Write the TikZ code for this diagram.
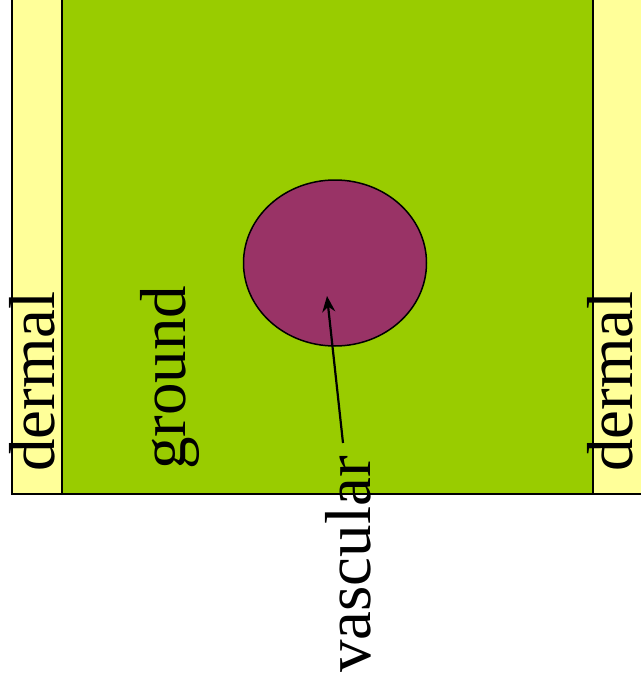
\documentclass[tikz,border=0pt]{standalone}
\usepackage{fontspec}
\setmainfont{Liberation Serif}
\usetikzlibrary{arrows.meta,shapes.geometric}
\definecolor{groundgreen}{HTML}{99CC00}
\definecolor{dermalyellow}{HTML}{FFFF99}
\definecolor{vascularpurple}{HTML}{993366}
\begin{document}
\begin{tikzpicture}[x=1pt,y=-1pt,
  label text/.style={rotate=90,anchor=base west,inner sep=0pt,font=\fontsize{65}{78}\selectfont},
  border/.style={line width=2pt,black}]
\useasboundingbox (0,0) rectangle (641,685);
% regions
\fill[dermalyellow] (12,0) rectangle (62,494);
\fill[groundgreen] (62,0) rectangle (593,494);
\fill[dermalyellow] (593,0) rectangle (641,494);
\draw[border] (12,0) -- (12,494) -- (641,494);
\draw[border] (62,0) -- (62,494);
\draw[border] (593,0) -- (593,494);
% vascular bundle
\node[ellipse,draw=black,line width=1.5pt,fill=vascularpurple,minimum width=183,minimum height=166,inner sep=0pt] (bundle) at (335,263) {};
% labels
\node[label text] (dermalL) at (54,472) {dermal};
\node[label text] (ground) at (185,470) {ground};
\node[label text] (dermalR) at (632,472) {dermal};
\node[label text] (vascular) at (370,673) {vascular};
\coordinate (tail) at (343,443);
\coordinate (tip) at (327,296);
\draw[line width=2.2pt,-{Stealth[length=16pt,width=13pt]}] (tail) -- (tip);
\end{tikzpicture}
\end{document}
